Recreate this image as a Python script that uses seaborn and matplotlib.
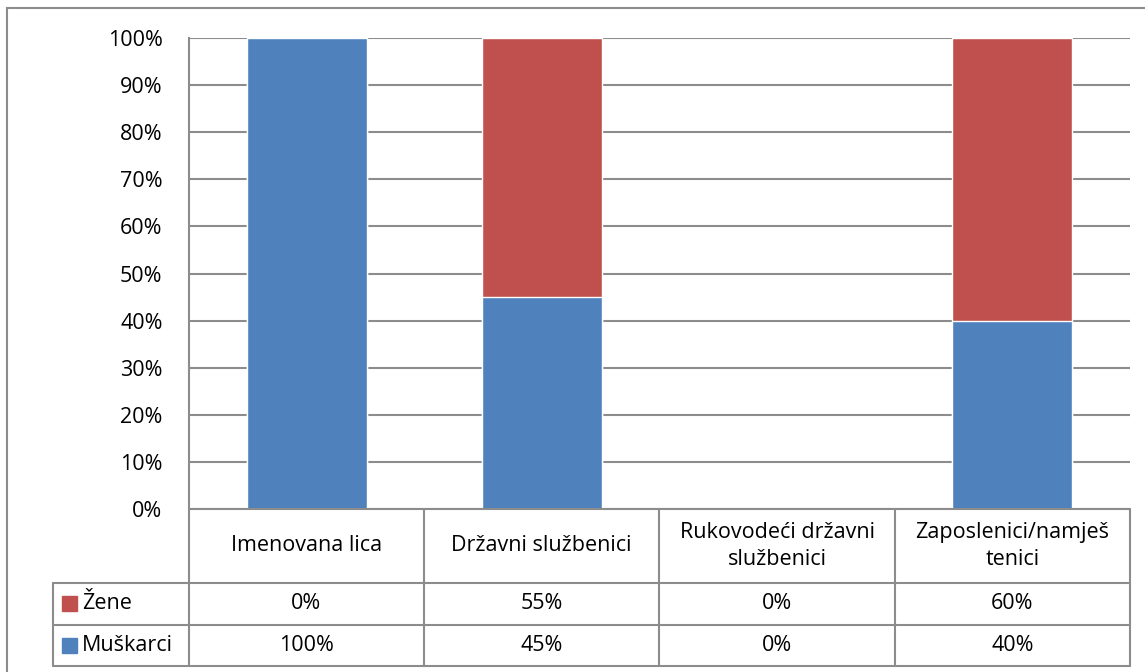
import numpy as np
import pandas as pd
import matplotlib
matplotlib.use('Agg')
import matplotlib.pyplot as plt
import seaborn as sns
from matplotlib.patches import Rectangle

categories = ['Imenovana lica', 'Državni službenici', 'Rukovodeći državni\nslužbenici', 'Zaposlenici/namješ\ntenici']
zene = [0, 55, 0, 60]
muskarci = [100, 45, 0, 40]
series_names = ['Žene', 'Muškarci']
yticks = [0, 10, 20, 30, 40, 50, 60, 70, 80, 90, 100]

BLUE = '#4F81BD'
RED = '#C0504D'
GRID = '#8C8C8C'

sns.set_style('white')
plt.rcParams['font.family'] = ['Open Sans', 'DejaVu Sans']
plt.rcParams['text.color'] = 'black'
plt.rcParams['ytick.color'] = 'black'

df = pd.DataFrame({'cat': categories, 'zene': zene, 'muskarci': muskarci})
df['total'] = df['zene'] + df['muskarci']

W, H = 1145, 672
fig = plt.figure(figsize=(W / 100, H / 100), dpi=100)
fs = 15.5

# plot area in pixels
L, R, T, B = 189, 1130, 38, 509
ax = fig.add_axes([L / W, 1 - B / H, (R - L) / W, (B - T) / H])
sns.barplot(data=df, x='cat', y='total', color=RED, width=0.51, saturation=1, ax=ax, zorder=3)
sns.barplot(data=df, x='cat', y='muskarci', color=BLUE, width=0.51, saturation=1, ax=ax, zorder=4)
ax.set_ylim(0, 100)
ax.set_xlim(-0.5, len(categories) - 0.5)
ax.set_yticks(yticks)
ax.set_yticklabels([f'{v}%' for v in yticks], fontsize=fs, color='black')
ax.set_xticks([])
ax.set_xlabel('')
ax.set_ylabel('')
ax.tick_params(axis='y', length=0, pad=19)
ax.yaxis.grid(True, color=GRID, linewidth=1.5, zorder=0)
ax.set_axisbelow(True)
for s in ['top', 'right', 'bottom']:
    ax.spines[s].set_visible(False)
ax.spines['left'].set_color(GRID)
ax.spines['left'].set_linewidth(1.5)

# data table below the plot
TL, TB = 53, 666
tax = fig.add_axes([TL / W, 1 - TB / H, (R - TL) / W, (TB - B) / H])
tax.set_xlim(TL, R)
tax.set_ylim(TB, B)
tax.axis('off')
cols = [189, 424, 659, 895, 1130]
rows = [509, 583, 625, 666]
lw = 1.5
for x in cols:
    tax.plot([x, x], [rows[0], rows[-1]], color=GRID, lw=lw, clip_on=False)
tax.plot([TL, TL], [rows[1], rows[-1]], color=GRID, lw=lw, clip_on=False)
tax.plot([L, R], [rows[0], rows[0]], color=GRID, lw=lw, clip_on=False)
for y in rows[1:]:
    tax.plot([TL, R], [y, y], color=GRID, lw=lw, clip_on=False)

for i, cat in enumerate(categories):
    cx = (cols[i] + cols[i + 1]) / 2
    tax.text(cx, (rows[0] + rows[1]) / 2, cat, ha='center', va='center', fontsize=fs, linespacing=1.35)
    tax.text(cx, (rows[1] + rows[2]) / 2, f'{zene[i]}%', ha='center', va='center', fontsize=fs)
    tax.text(cx, (rows[2] + rows[3]) / 2, f'{muskarci[i]}%', ha='center', va='center', fontsize=fs)

for (name, color, r0, r1) in [(series_names[0], RED, rows[1], rows[2]), (series_names[1], BLUE, rows[2], rows[3])]:
    cy = (r0 + r1) / 2
    tax.add_patch(Rectangle((62, cy - 7.5), 15, 15, color=color, clip_on=False))
    tax.text(82, cy, name, ha='left', va='center', fontsize=fs)

# outer chart frame
frame = Rectangle((7 / W, -0.01), 1.02, 1 - 8 / H + 0.01, transform=fig.transFigure,
                  fill=False, edgecolor=GRID, lw=1.5)
fig.patches.append(frame)

fig.savefig('out.png', dpi=100)
